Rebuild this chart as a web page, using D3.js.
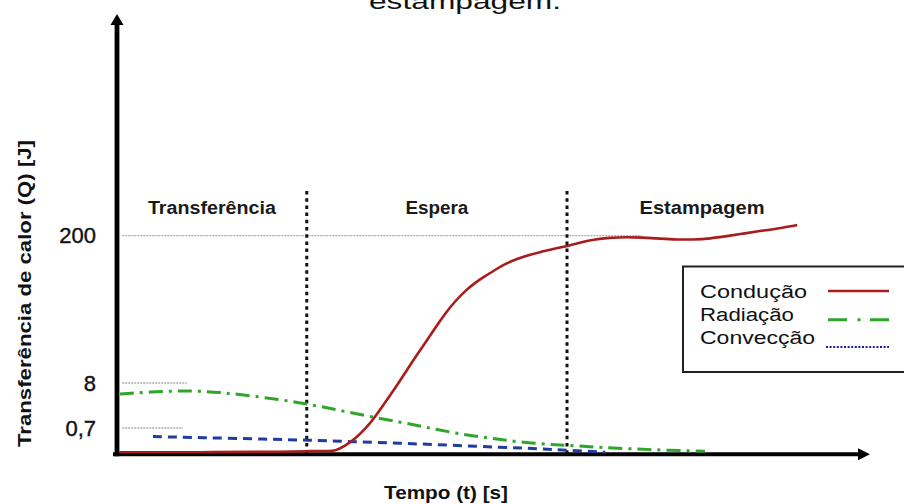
<!DOCTYPE html>
<html>
<head>
<meta charset="utf-8">
<script src="https://cdn.jsdelivr.net/npm/d3@7"></script>
<style>
  html, body { margin: 0; padding: 0; background: #fff; }
  svg { display: block; }
</style>
</head>
<body>
<svg id="chart" width="904" height="504"></svg>
<script>
// Phases of the hot-stamping cycle (time in s, schematic)
const phaseNames = ["Transferência", "Espera", "Estampagem"];
const phaseBounds = [0, 2.53, 6.0, 9.6];

// Heat transferred Q [J] — marked levels on the vertical axis
const yTickValues = [0.7, 8, 200];
const yTickLabels = ["0,7", "8", "200"];

// Series: [t, Q]
const conducao = [
  [0.03, 0.054], [1.11, 0.054], [2.31, 0.067], [2.57, 0.086], [2.80, 0.09],
  [2.91, 0.088], [3.04, 0.221], [3.17, 0.407], [3.31, 0.673], [3.44, 2.48],
  [3.57, 4.76], [3.71, 7.19], [3.84, 21.0], [3.97, 40.6], [4.11, 60.1],
  [4.24, 79.6], [4.37, 97.9], [4.51, 114.8], [4.64, 127.8], [4.77, 138.3],
  [4.91, 147.4], [5.04, 155.2], [5.17, 163.0], [5.37, 171.5], [5.64, 178.6],
  [5.91, 184.3], [6.17, 190.9], [6.35, 194.8], [6.57, 197.4], [6.80, 198.1],
  [7.01, 197.4], [7.24, 196.1], [7.47, 194.8], [7.68, 194.8], [7.91, 196.1],
  [8.13, 199.3], [8.35, 202.6], [8.57, 205.9], [8.80, 209.1], [9.07, 213.7]
];
const radiacao = [
  [0.04, 6.22], [0.44, 6.54], [0.88, 6.78], [1.37, 6.54], [1.91, 5.73],
  [2.44, 4.84], [2.88, 3.78], [3.33, 2.65], [3.77, 1.67], [4.17, 0.70],
  [4.57, 0.538], [4.97, 0.431], [5.37, 0.323], [5.81, 0.256], [6.00, 0.242],
  [6.40, 0.188], [6.84, 0.148], [7.31, 0.108], [7.84, 0.081]
];
const conveccao = [
  [0.48, 0.471], [1.11, 0.444], [2.00, 0.404], [2.53, 0.377], [3.11, 0.337],
  [3.77, 0.296], [4.44, 0.242], [5.11, 0.188], [5.64, 0.148], [6.00, 0.108],
  [6.51, 0.054]
];

const seriesNames = ["Condução", "Radiação", "Convecção"];

// ---------------------------------------------------------------
const FONT = "'Liberation Sans', Arial, Helvetica, sans-serif";
const RED = "#a81c1c", GREEN = "#2fa52c", BLUE = "#1f3d9e", NAVY = "#1c1c9a";

const svg = d3.select("#chart");

const x = d3.scaleLinear().domain([0, 10]).range([117, 867]);
// piecewise vertical scale: the axis is schematic, not proportional
const y = d3.scaleLinear().domain([0, 0.7, 8, 200]).range([454.3, 428, 383, 235.6]);

const yAxisTop = 14;
const xAxisTip = 870;
const guideStart = 0.07;
const guideEnds = [0.88, 0.93, 7.0];
const phaseLabelWidths = [128, 63, 125];

// title (last line of the caption)
svg.append("text")
  .attr("x", 465).attr("y", 9)
  .attr("text-anchor", "middle")
  .attr("font-family", FONT).attr("font-size", 22)
  .attr("textLength", 192).attr("lengthAdjust", "spacingAndGlyphs")
  .attr("fill", "#111")
  .text("estampagem.");

// grey guide lines at the marked Q levels
svg.append("g").selectAll("line")
  .data(yTickValues)
  .join("line")
  .attr("x1", x(guideStart))
  .attr("x2", (d, i) => x(guideEnds[i]))
  .attr("y1", d => y(d)).attr("y2", d => y(d))
  .attr("stroke", "#aaa").attr("stroke-width", 1.3)
  .attr("stroke-dasharray", "2,1");

// tick labels
svg.append("g").selectAll("text")
  .data(yTickValues)
  .join("text")
  .attr("x", 96)
  .attr("y", d => y(d) + 7.5)
  .attr("text-anchor", "end")
  .attr("font-family", FONT).attr("font-size", 22)
  .attr("stroke", "#111").attr("stroke-width", 0.4)
  .attr("fill", "#111")
  .text((d, i) => yTickLabels[i]);

// phase separators
svg.append("g").selectAll("line")
  .data(phaseBounds.slice(1, -1))
  .join("line")
  .attr("x1", d => x(d)).attr("x2", d => x(d))
  .attr("y1", 191).attr("y2", y(0))
  .attr("stroke", "#111").attr("stroke-width", 3)
  .attr("stroke-dasharray", "3.5,3.7");

// phase labels
svg.append("g").selectAll("text")
  .data(phaseNames)
  .join("text")
  .attr("x", (d, i) => x((phaseBounds[i] + phaseBounds[i + 1]) / 2))
  .attr("y", 214)
  .attr("text-anchor", "middle")
  .attr("font-family", FONT).attr("font-size", 18).attr("font-weight", "bold")
  .attr("textLength", (d, i) => phaseLabelWidths[i]).attr("lengthAdjust", "spacingAndGlyphs")
  .attr("fill", "#1a1a1a")
  .text(d => d);

// axes with arrowheads
svg.append("line")
  .attr("x1", x(0)).attr("x2", x(0))
  .attr("y1", y(0) + 2).attr("y2", yAxisTop + 8)
  .attr("stroke", "#000").attr("stroke-width", 4.8);
svg.append("path")
  .attr("d", `M${x(0)},${yAxisTop} L${x(0) - 6.5},${yAxisTop + 11} L${x(0) + 6.5},${yAxisTop + 11} Z`)
  .attr("fill", "#000");

svg.append("line")
  .attr("x1", 113).attr("x2", xAxisTip - 8)
  .attr("y1", y(0)).attr("y2", y(0))
  .attr("stroke", "#000").attr("stroke-width", 4);
svg.append("path")
  .attr("d", `M${xAxisTip},${y(0)} L${xAxisTip - 12},${y(0) - 6} L${xAxisTip - 12},${y(0) + 6} Z`)
  .attr("fill", "#000");

// curves
const line = d3.line()
  .x(d => x(d[0]))
  .y(d => y(d[1]))
  .curve(d3.curveBasis);

svg.append("path").datum(conveccao)
  .attr("d", line).attr("fill", "none")
  .attr("stroke", BLUE).attr("stroke-width", 3)
  .attr("stroke-dasharray", "9,6");

svg.append("path").datum(radiacao)
  .attr("d", line).attr("fill", "none")
  .attr("stroke", GREEN).attr("stroke-width", 3)
  .attr("stroke-dasharray", "14,6,3,6");

svg.append("path").datum(conducao)
  .attr("d", line).attr("fill", "none")
  .attr("stroke", RED).attr("stroke-width", 2.6);

// axis titles
svg.append("text")
  .attr("transform", `translate(31,${(447 + 140) / 2}) rotate(-90)`)
  .attr("text-anchor", "middle")
  .attr("font-family", FONT).attr("font-size", 19).attr("font-weight", "bold")
  .attr("textLength", 307).attr("lengthAdjust", "spacingAndGlyphs")
  .attr("fill", "#111")
  .text("Transferência de calor (Q) [J]");

svg.append("text")
  .attr("x", 446).attr("y", 499)
  .attr("text-anchor", "middle")
  .attr("font-family", FONT).attr("font-size", 19).attr("font-weight", "bold")
  .attr("textLength", 124).attr("lengthAdjust", "spacingAndGlyphs")
  .attr("fill", "#111")
  .text("Tempo (t) [s]");

// legend
const legend = svg.append("g");
legend.append("rect")
  .attr("x", 683).attr("y", 266.5)
  .attr("width", 240).attr("height", 105.5)
  .attr("fill", "#fff").attr("stroke", "#222").attr("stroke-width", 2);

const legendStyles = [
  { stroke: RED, width: 2.6, dash: null, dy: -6.5, x1: 828, len: 107 },
  { stroke: GREEN, width: 3, dash: "19,10.5,3,9.5,19", dy: -1, x1: 828, len: 94 },
  { stroke: NAVY, width: 2, dash: "2,1.6", dy: 3, x1: 826, len: 115 }
];
seriesNames.forEach((name, i) => {
  const base = 297.5 + i * 23.3;
  const s = legendStyles[i];
  legend.append("text")
    .attr("x", 700).attr("y", base)
    .attr("font-family", FONT).attr("font-size", 18)
    .attr("textLength", s.len).attr("lengthAdjust", "spacingAndGlyphs")
    .attr("fill", "#111")
    .text(name);
  legend.append("line")
    .attr("x1", s.x1).attr("x2", 889)
    .attr("y1", base + s.dy).attr("y2", base + s.dy)
    .attr("stroke", s.stroke).attr("stroke-width", s.width)
    .attr("stroke-dasharray", s.dash);
});
</script>
</body>
</html>
